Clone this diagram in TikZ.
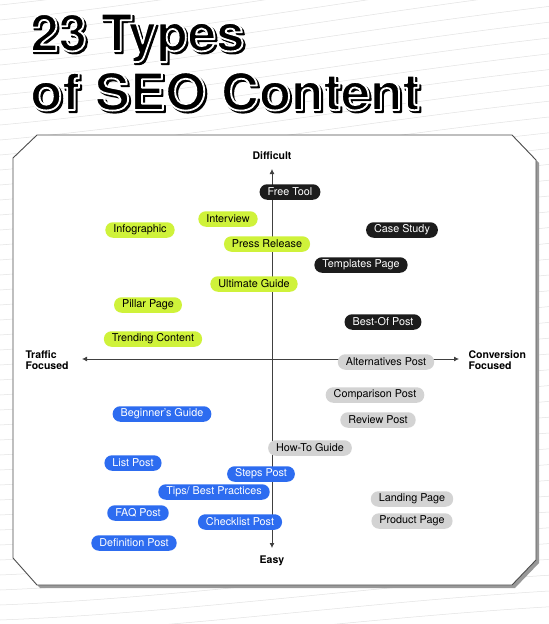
\documentclass[tikz,border=0pt]{standalone}
\usepackage{fontspec}
\setmainfont{TeX Gyre Heros}
\usetikzlibrary{arrows.meta}
\definecolor{lime}{HTML}{CFF23A}
\definecolor{pblue}{HTML}{2D6CF0}
\definecolor{pblack}{HTML}{1C1C1C}
\definecolor{pgray}{HTML}{D3D3D3}
\definecolor{wave}{HTML}{E2E2E2}
\newcommand{\outlinedtext}[2]{\special{pdf:literal direct 2 Tr #1 w 1 J 1 j}#2\special{pdf:literal direct 0 Tr}}
\newcommand{\whiteoutline}[2]{\special{pdf:literal direct 2 Tr #1 w 1 1 1 RG 1 J 1 j}#2\special{pdf:literal direct 0 Tr}}
\tikzset{
  pill/.style={rounded corners=7.5pt, minimum height=15.5pt, inner xsep=8pt, inner ysep=0pt, font=\fontsize{10.8}{12}\selectfont},
  limepill/.style={pill, fill=lime, text=black},
  bluepill/.style={pill, fill=pblue, text=white},
  blackpill/.style={pill, fill=pblack, text=white},
  graypill/.style={pill, fill=pgray, text=black},
  axis/.style={draw=black!75, line width=0.8pt, -{Latex[length=5pt,width=5pt]}},
  axlabel/.style={font=\fontsize{10.5}{11}\selectfont\bfseries, align=left},
  titlefont/.style={font=\fontsize{51}{51}\selectfont\bfseries, inner sep=0pt, anchor=base west}
}
\begin{document}
\begin{tikzpicture}[x=1pt,y=-1pt]
\useasboundingbox (0,0) rectangle (549,624);
\fill[white] (0,0) rectangle (549,624);
% background waves
\foreach \i in {0,...,46} {
  \draw[wave, line width=0.5pt] (0,{-40+\i*15}) .. controls (180,{-60+\i*15+0.3*\i}) and (360,{-95+\i*15+0.5*\i}) .. (549,{-120+\i*15+0.8*\i});
}
% title: black shadow, then black text with white outline
\node[titlefont, text=black] (shadow1) at (32.2,53.2) {\outlinedtext{1.6}{23 Types}};
\node[titlefont, text=black] (title1) at (30,51) {\whiteoutline{1.8}{23 Types}};
\node[titlefont, text=black, xscale=1.035] (shadow2) at (32.2,112.2) {\outlinedtext{1.6}{of SEO Content}};
\node[titlefont, text=black, xscale=1.035] (title2) at (30,110) {\whiteoutline{1.8}{of SEO Content}};
% panel
\fill[black!40] (40,138) -- (515,138) -- (539,163) -- (539,563) -- (515,588) -- (40,588) -- (16,561) -- (16,161) -- cycle;
\draw[black!70, line width=0.9pt, fill=white] (37,135) -- (512,135) -- (536,160) -- (536,560) -- (512,585) -- (37,585) -- (13,558) -- (13,158) -- cycle;
% axes
\coordinate (vtop) at (272,169);
\coordinate (vbot) at (272,548);
\coordinate (hleft) at (82,359);
\coordinate (hright) at (459,359);
\coordinate (c) at (272,359);
\draw[axis] (c) -- (vtop);
\draw[axis] (c) -- (vbot);
\draw[axis] (c) -- (hleft);
\draw[axis] (c) -- (hright);
\node[axlabel] (difficult) at (272,156) {Difficult};
\node[axlabel] (easy) at (272,561) {Easy};
\node[axlabel, anchor=west] (traffic) at (22,360) {Traffic\\Focused};
\node[axlabel, anchor=west] (conv) at (465,360) {Conversion\\Focused};
% pills
\node[blackpill] (freetool) at (290,192) {Free Tool};
\node[limepill] (interview) at (228,219) {Interview};
\node[limepill] (infographic) at (140,230) {Infographic};
\node[limepill] (press) at (267,244) {Press Release};
\node[blackpill] (case) at (402,230) {Case Study};
\node[blackpill] (templates) at (361,265) {Templates Page};
\node[limepill] (ultimate) at (254,284) {Ultimate Guide};
\node[limepill] (pillar) at (148,305) {Pillar Page};
\node[blackpill] (bestof) at (383,322) {Best-Of Post};
\node[limepill] (trending) at (153,339) {Trending Content};
\node[graypill] (alternatives) at (386,362) {Alternatives Post};
\node[graypill] (comparison) at (375,395) {Comparison Post};
\node[graypill] (review) at (378,420) {Review Post};
\node[bluepill] (beginner) at (162,414) {Beginner's Guide};
\node[graypill] (howto) at (310,448) {How-To Guide};
\node[bluepill] (list) at (133,463) {List Post};
\node[bluepill] (steps) at (261,474) {Steps Post};
\node[bluepill] (tips) at (214,492) {Tips/ Best Practices};
\node[bluepill] (faq) at (138,513) {FAQ Post};
\node[bluepill] (checklist) at (240,522) {Checklist Post};
\node[bluepill] (definition) at (134,543) {Definition Post};
\node[graypill] (landing) at (412,499) {Landing Page};
\node[graypill] (product) at (412,521) {Product Page};
\end{tikzpicture}
\end{document}
